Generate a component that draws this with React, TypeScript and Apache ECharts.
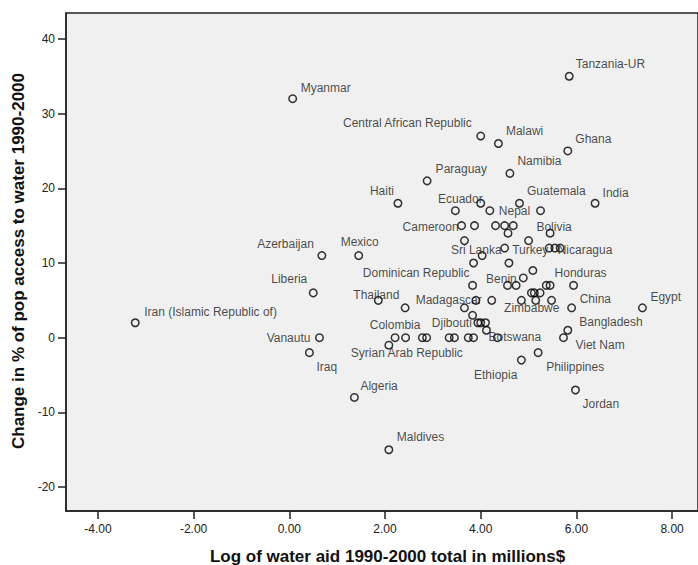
import React, { useEffect, useRef } from "react";
import * as echarts from "echarts";

const countries = [
  "Myanmar", "Azerbaijan", "Liberia", "Iran (Islamic Republic of)", "Vanautu", "Iraq",
  "Mexico", "Thailand", "Colombia", "Syrian Arab Republic", "Algeria", "Maldives",
  "Madagascar", "Djibouti", "Botswana", "Zimbabwe", "China", "Egypt", "Bangladesh",
  "Viet Nam", "Philippines", "Ethiopia", "Jordan", "Honduras", "Benin",
  "Dominican Republic", "Sri Lanka", "Turkey", "Nicaragua", "Bolivia", "Cameroon",
  "Nepal", "Ecuador", "Guatemala", "India", "Haiti", "Paraguay", "Namibia", "Ghana",
  "Malawi", "Central African Republic", "Tanzania-UR",
  "", "", "", "", "", "", "", "", "", "", "", "", "", "", "", "", "", "", "", "", "",
  "", "", "", "", "", "", "", "", "", "", "", "", "", "", "", "",
];

const logWaterAid = [
  0.07, 0.68, 0.5, -3.22, 0.63, 0.42,
  1.45, 1.86, 2.21, 2.08, 1.36, 2.08,
  4.23, 3.94, 4.12, 5.15, 5.9, 7.38, 5.82,
  5.73, 5.2, 4.85, 5.98, 5.94, 4.89,
  3.85, 3.66, 4.5, 5.66, 5.45, 3.6,
  4.19, 3.47, 4.81, 6.39, 2.27, 2.88, 4.61, 5.82,
  4.37, 4.0, 5.85,
  4.0, 5.25, 3.87, 4.31, 4.5, 4.68, 4.57, 5.0, 5.43, 5.55, 4.03, 4.59, 5.09,
  3.83, 4.56, 4.74, 5.37, 5.45, 5.06, 5.12, 5.24, 3.9, 4.85, 5.48, 2.42, 3.66,
  3.83, 4.0, 4.1, 2.43, 2.78, 2.87, 3.34, 3.45, 3.74, 3.85, 4.35,
];

const accessChange = [
  32, 11, 6, 2, 0, -2,
  11, 5, 0, -1, -8, -15,
  5, 2, 1, 5, 4, 4, 1,
  0, -2, -3, -7, 7, 8,
  10, 13, 12, 12, 14, 15,
  17, 17, 18, 18, 18, 21, 22, 25,
  26, 27, 35,
  18, 17, 15, 15, 15, 15, 14, 13, 12, 12, 11, 10, 9,
  7, 7, 7, 7, 7, 6, 6, 6, 5, 5, 5, 4, 4,
  3, 2, 2, 0, 0, 0, 0, 0, 0, 0, 0,
];

const xTicks = [-4, -2, 0, 2, 4, 6, 8];
const yTicks = [-20, -10, 0, 10, 20, 30, 40];

// label placement relative to the marker: [align, dx, dy] in pixels
const labelPlacement: Record<string, [string, number, number]> = {
  "Myanmar": ["left", 8, -11],
  "Azerbaijan": ["right", -8, -12],
  "Liberia": ["right", -6, -14],
  "Iran (Islamic Republic of)": ["left", 9, -11],
  "Vanautu": ["right", -9, 0],
  "Iraq": ["left", 7, 14],
  "Mexico": ["center", 1, -14],
  "Thailand": ["center", -2, -5],
  "Colombia": ["center", 0, -12.5],
  "Syrian Arab Republic": ["center", 18, 7.5],
  "Algeria": ["left", 6, -11],
  "Maldives": ["left", 8, -12.5],
  "Madagascar": ["right", -10, -0.5],
  "Djibouti": ["right", -6, 0.5],
  "Botswana": ["left", 2, 6.5],
  "Zimbabwe": ["center", -4, 8],
  "China": ["left", 8, -9],
  "Egypt": ["left", 8, -11],
  "Bangladesh": ["left", 11.5, -8],
  "Viet Nam": ["left", 12, 7],
  "Philippines": ["left", 8, 14],
  "Ethiopia": ["right", -4, 15],
  "Jordan": ["left", 7, 14],
  "Honduras": ["left", -19, -12.5],
  "Benin": ["right", -6.5, 1],
  "Dominican Republic": ["right", -4, 9.5],
  "Sri Lanka": ["left", -13.5, 9],
  "Turkey": ["left", 7.5, 1.5],
  "Nicaragua": ["left", -2.5, 1.5],
  "Bolivia": ["center", 4, -6],
  "Cameroon": ["right", -3, 1.5],
  "Nepal": ["left", 9, 0.5],
  "Ecuador": ["center", 5, -12],
  "Guatemala": ["left", 7.5, -12.5],
  "India": ["left", 7.5, -10.5],
  "Haiti": ["right", -4, -12.5],
  "Paraguay": ["left", 8.5, -11.5],
  "Namibia": ["left", 7.5, -12.5],
  "Ghana": ["left", 7.5, -12],
  "Malawi": ["left", 7.5, -12.5],
  "Central African Republic": ["right", -9, -13],
  "Tanzania-UR": ["left", 6.5, -12],
};

const FONT = 'Arial, "Liberation Sans", Helvetica, sans-serif';

export default function App() {
  const ref = useRef<HTMLDivElement>(null);

  useEffect(() => {
    if (!ref.current) return;
    const chart = echarts.init(ref.current, undefined, { renderer: "svg" });

    const data = logWaterAid.map((x, i) => {
      const name = countries[i];
      const item: any = { value: [x, accessChange[i]], name };
      if (name) {
        const p = labelPlacement[name] || ["left", 7.5, -12];
        item.label = {
          show: true,
          formatter: name,
          position: "inside",
          align: p[0],
          verticalAlign: "middle",
          offset: [p[1], p[2]],
        };
      }
      return item;
    });

    chart.setOption({
      animation: false,
      backgroundColor: "#ffffff",
      grid: {
        left: 66,
        top: 13,
        right: 0,
        bottom: 54,
        show: true,
        backgroundColor: "#f0f0f0",
        borderColor: "#222222",
        borderWidth: 1.5,
      },
      xAxis: {
        type: "value",
        min: -4.667,
        max: 8.541,
        splitLine: { show: false },
        axisLine: { show: true, onZero: false, lineStyle: { color: "#222222", width: 1.5 } },
        axisTick: {
          show: true,
          length: 8,
          customValues: xTicks,
          lineStyle: { color: "#222222", width: 1.5 },
        },
        axisLabel: {
          customValues: xTicks,
          formatter: (v: number) => v.toFixed(2),
          color: "#222222",
          fontSize: 12,
          fontFamily: FONT,
          margin: 12,
        },
      },
      yAxis: {
        type: "value",
        min: -23.2,
        max: 43.47,
        splitLine: { show: false },
        axisLine: { show: true, onZero: false, lineStyle: { color: "#222222", width: 1.5 } },
        axisTick: {
          show: true,
          length: 8,
          customValues: yTicks,
          lineStyle: { color: "#222222", width: 1.5 },
        },
        axisLabel: {
          customValues: yTicks,
          formatter: (v: number) => String(v),
          color: "#222222",
          fontSize: 12,
          fontFamily: FONT,
          margin: 11,
        },
      },
      series: [
        {
          type: "scatter",
          symbol: "circle",
          symbolSize: 7.5,
          silent: true,
          itemStyle: {
            color: "rgba(0,0,0,0)",
            borderColor: "#000000",
            borderWidth: 1.5,
          },
          label: {
            show: false,
            color: "#1a1a1a",
            fontSize: 12,
            fontFamily: FONT,
          },
          emphasis: { disabled: true },
          data,
        },
      ],
      graphic: [
        {
          type: "text",
          x: 387.5,
          y: 556,
          style: {
            text: "Log of water aid 1990-2000 total in millions$",
            fill: "#111111",
            font: `bold 17px ${FONT}`,
            textAlign: "center",
            textVerticalAlign: "middle",
          },
        },
        {
          type: "text",
          x: 18.5,
          y: 261,
          rotation: Math.PI / 2,
          style: {
            text: "Change in % of pop access to water 1990-2000",
            fill: "#111111",
            font: `bold 17px ${FONT}`,
            textAlign: "center",
            textVerticalAlign: "middle",
          },
        },
      ],
    });

    return () => chart.dispose();
  }, []);

  return (
    <div
      ref={ref}
      style={{ position: "fixed", left: 0, top: 0, width: 698, height: 565 }}
    />
  );
}
